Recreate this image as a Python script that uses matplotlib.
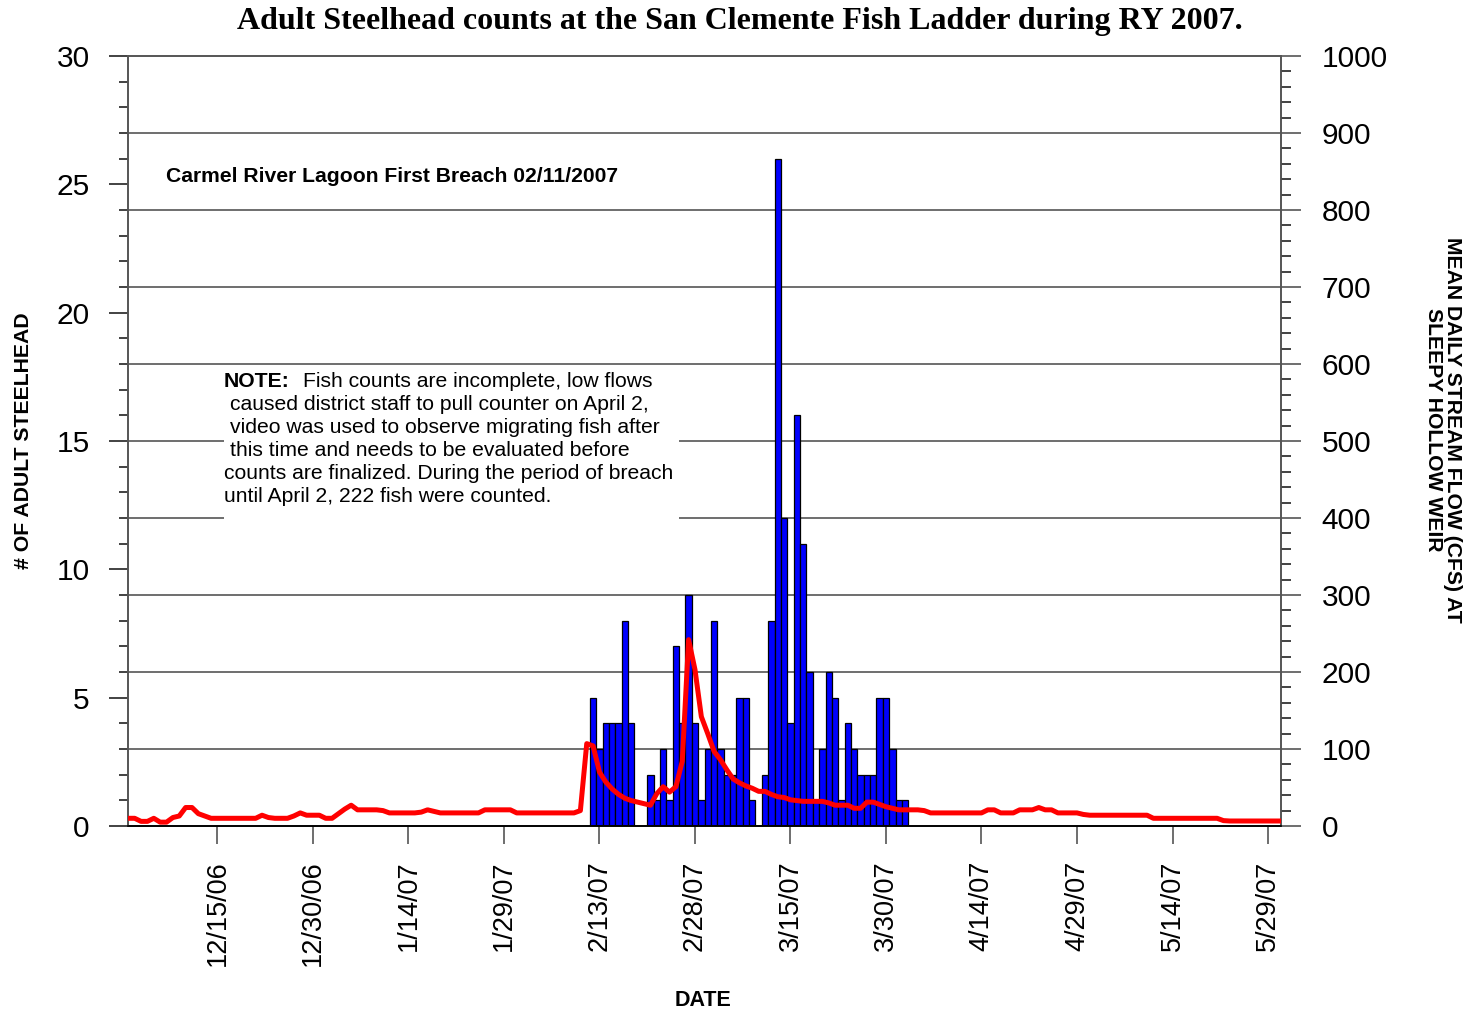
import numpy as np
import matplotlib.pyplot as plt
from matplotlib.patches import Rectangle
from matplotlib.ticker import MultipleLocator

plt.rcParams['font.family'] = ['Liberation Sans', 'DejaVu Sans']

# adult steelhead counted per day, 2/12/07 .. 4/2/07
count_start = '2007-02-12'
counts = [5, 3, 4, 4, 4, 8, 4, 0, 0, 2, 1, 3, 1, 7, 4, 9, 4,            # feb
          1, 3, 8, 3, 2, 2, 5, 5, 1, 0, 2, 8, 26, 12, 4, 16, 11, 6, 1,
          3, 6, 5, 1, 4, 3, 2, 2, 2, 5, 5, 3,                           # mar
          1, 1]                                                         # apr

# mean daily flow (cfs) at sleepy hollow weir, 12/1/06 .. 5/31/07
flow_start = '2006-12-01'
flow_dec = [10, 10, 6, 6, 10, 5, 5, 11, 13, 24, 24, 16, 13, 10, 10, 10,
            10, 10, 10, 10, 10, 14, 11, 10, 10, 10, 13, 17, 14, 14, 14]
flow_jan = [10, 10, 16, 22, 27, 21, 21, 21, 21, 20, 17, 17, 17, 17, 17, 18,
            21, 19, 17, 17, 17, 17, 17, 17, 17, 21, 21, 21, 21, 21, 17]
flow_feb = [17, 17, 17, 17, 17, 17, 17, 17, 17, 20, 107, 104, 70, 57, 48,
            41, 36, 33, 31, 29, 27, 42, 51, 44, 51, 84, 242, 203]
flow_mar = [142, 120, 97, 86, 73, 61, 56, 52, 49, 45, 45, 41, 38, 37, 34,
            33, 32, 32, 32, 32, 30, 27, 27, 27, 23, 23, 31, 31, 28, 25, 23]
flow_apr = [21, 21, 21, 21, 20, 17, 17, 17, 17, 17, 17, 17, 17, 17, 21,
            21, 17, 17, 17, 21, 21, 21, 24, 21, 21, 17, 17, 17, 17, 15]
flow_may = [14, 14, 14, 14, 14, 14, 14, 14, 14, 14, 10, 10, 10, 10, 10, 10,
            10, 10, 10, 10, 10, 7, 6.5, 6.5, 6.5, 6.5, 6.5, 6.5, 6.5, 6.5, 6.5]
flow = flow_dec + flow_jan + flow_feb + flow_mar + flow_apr + flow_may

tick_dates = ['2006-12-15', '2006-12-30', '2007-01-14', '2007-01-29',
              '2007-02-13', '2007-02-28', '2007-03-15', '2007-03-30',
              '2007-04-14', '2007-04-29', '2007-05-14', '2007-05-29']
tick_labels = ['12/15/06', '12/30/06', '1/14/07', '1/29/07', '2/13/07',
               '2/28/07', '3/15/07', '3/30/07', '4/14/07', '4/29/07',
               '5/14/07', '5/29/07']

count_dates = np.datetime64(count_start) + np.arange(len(counts))
flow_dates = np.datetime64(flow_start) + np.arange(len(flow))

gcol = '#555555'

fig = plt.figure(figsize=(14.75, 10.13), dpi=100)
ax1 = fig.add_axes([0.087, 0.1846, 0.7813, 0.7601])
ax2 = ax1.twinx()

# lignes horizontales tous les 100 cfs (= 3 poissons)
for v in range(3, 30, 3):
    ax1.axhline(v, color=gcol, lw=1.2, zorder=0.5)

ax1.bar(count_dates, counts, width=1, color='#0000FF', edgecolor='black',
        linewidth=0.9, zorder=2)
ax2.plot(flow_dates, flow, color='#FF0000', lw=3.6, solid_joinstyle='round',
         solid_capstyle='round', zorder=3)

ax1.set_xlim(np.datetime64('2006-12-01'), np.datetime64('2007-05-31'))
ax1.set_ylim(0, 30)
ax2.set_ylim(0, 1000)

ax1.yaxis.set_major_locator(MultipleLocator(5))
ax1.yaxis.set_minor_locator(MultipleLocator(1))
ax2.yaxis.set_major_locator(MultipleLocator(100))
ax2.yaxis.set_minor_locator(MultipleLocator(20))

ax1.set_xticks([np.datetime64(d) for d in tick_dates])
ax1.set_xticklabels(tick_labels, rotation=90, fontsize=19.5)
ax1.tick_params(axis='x', length=13, width=1.2, color=gcol, pad=12)
ax1.tick_params(axis='y', which='major', length=13.7, width=1.2, color='#222222',
                labelsize=21.5, pad=14)
ax1.tick_params(axis='y', which='minor', length=6.5, width=1.2, color='#222222')
ax2.tick_params(axis='y', which='major', length=14.4, width=1.2, color=gcol,
                labelsize=21.5, pad=15)
ax2.tick_params(axis='y', which='minor', length=7.2, width=1.2, color='#222222')

for a in (ax1, ax2):
    for s in ('left', 'right', 'top'):
        a.spines[s].set_color(gcol)
        a.spines[s].set_linewidth(1.2)
    a.spines['bottom'].set_color('black')
    a.spines['bottom'].set_linewidth(1.2)

# textes
ax1.text(0.0331, 0.836, 'Carmel River Lagoon First Breach 02/11/2007',
         transform=ax1.transAxes, fontsize=15.2, fontweight='bold',
         va='baseline', zorder=5)

ax1.add_patch(Rectangle((0.083, 0.39), 0.395, 0.206, transform=ax1.transAxes,
                        facecolor='white', edgecolor='none', zorder=4))
px = 1 / 1152.4
py = 1 / 770.0
base = lambda ypix: (826 - ypix) * py
ax1.text((224 - 128.3) * px, base(387), 'NOTE:', transform=ax1.transAxes,
         fontsize=15.2, fontweight='bold', va='baseline', zorder=5)
note_lines = [(303, 387, 'Fish counts are incomplete, low flows'),
              (230, 410, 'caused district staff to pull counter on April 2,'),
              (230, 433, 'video was used to observe migrating fish after'),
              (230, 456, 'this time and needs to be evaluated before'),
              (224, 479, 'counts are finalized. During the period of breach'),
              (224, 502, 'until April 2, 222 fish were counted.')]
for xp, yp, t in note_lines:
    ax1.text((xp - 128.3) * px, base(yp), t, transform=ax1.transAxes,
             fontsize=15.2, va='baseline', zorder=5)

fig.text(740 / 1475, 1 - 21 / 1013,
         'Adult Steelhead counts at the San Clemente Fish Ladder during RY 2007.',
         family='Liberation Serif', fontsize=23, fontweight='bold',
         ha='center', va='center')
fig.text(24 / 1475, 1 - 441 / 1013, '# OF ADULT STEELHEAD', rotation=90,
         fontsize=15.3, fontweight='bold', ha='center', va='center')
fig.text(1443 / 1475, 1 - 430 / 1013,
         'MEAN DAILY STREAM FLOW (CFS) AT\nSLEEPY HOLLOW WEIR', rotation=-90,
         fontsize=15.2, fontweight='bold', ha='center', va='center',
         multialignment='center', linespacing=1.0)
fig.text(703 / 1475, 1 - 1000 / 1013, 'DATE', fontsize=15.5, fontweight='bold',
         ha='center', va='center')

fig.savefig('out.png', dpi=100)
